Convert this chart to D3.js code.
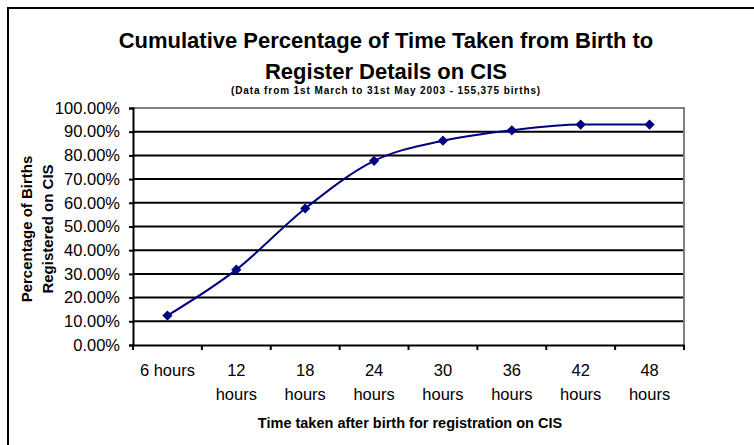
<!DOCTYPE html>
<html>
<head>
<meta charset="utf-8">
<script src="https://d3js.org/d3.v7.min.js"></script>
<style>
  body { margin: 0; background: #fff; }
  svg { display: block; font-family: "Liberation Sans", Arial, sans-serif; }
</style>
</head>
<body>
<div id="chart_div"></div>
<script>
// chart data
const categories = ["6 hours", "12 hours", "18 hours", "24 hours", "30 hours", "36 hours", "42 hours", "48 hours"];
const percentRegistered = [0.124, 0.318, 0.576, 0.777, 0.862, 0.906, 0.930, 0.930];
const yTickValues = [0, 0.1, 0.2, 0.3, 0.4, 0.5, 0.6, 0.7, 0.8, 0.9, 1.0];
const titleLines = ["Cumulative Percentage of Time Taken from Birth to", "Register Details on CIS"];
const subtitle = "(Data from 1st March to 31st May 2003 - 155,375 births)";
const yTitleLines = ["Percentage of Births", "Registered on CIS"];
const xTitle = "Time taken after birth for registration on CIS";

const width = 754, height = 445;
const plot = { left: 133, right: 684, top: 108, bottom: 345 };
const centerX = 386;

const svg = d3.select("#chart_div").append("svg")
  .attr("width", width)
  .attr("height", height);

// outer chart border (runs off the right and bottom edge)
svg.append("rect")
  .attr("x", 8).attr("y", 8)
  .attr("width", 800).attr("height", 500)
  .attr("fill", "#fff")
  .attr("stroke", "#000")
  .attr("stroke-width", 2);

// titles
svg.append("text")
  .attr("x", centerX).attr("y", 48)
  .attr("text-anchor", "middle")
  .attr("font-size", 22).attr("font-weight", "bold")
  .text(titleLines[0]);
svg.append("text")
  .attr("x", centerX).attr("y", 79)
  .attr("text-anchor", "middle")
  .attr("font-size", 22).attr("font-weight", "bold")
  .text(titleLines[1]);
svg.append("text")
  .attr("x", centerX).attr("y", 94)
  .attr("text-anchor", "middle")
  .attr("font-size", 10).attr("font-weight", "bold")
  .attr("letter-spacing", 0.9)
  .text(subtitle);

// scales
const x = d3.scaleBand()
  .domain(categories)
  .range([plot.left, plot.right]);

const y = d3.scaleLinear()
  .domain([0, 1])
  .range([plot.bottom, plot.top]);

// gridlines
svg.append("g")
  .selectAll("line")
  .data(yTickValues.filter(v => v > 0 && v < 1))
  .enter().append("line")
  .attr("x1", plot.left).attr("x2", plot.right)
  .attr("y1", d => y(d)).attr("y2", d => y(d))
  .attr("stroke", "#000")
  .attr("stroke-width", 2);

// plot border top / right (grey)
svg.append("path")
  .attr("d", `M${plot.left},${y(1)}H${plot.right}V${plot.bottom}`)
  .attr("fill", "none")
  .attr("stroke", "#808080")
  .attr("stroke-width", 2);

// Y axis
const yAxis = svg.append("g")
  .attr("transform", "translate(" + plot.left + ",0)")
  .call(d3.axisLeft(y)
    .tickValues(yTickValues)
    .tickFormat(d3.format(".2%"))
    .tickSize(4)
    .tickPadding(9));
yAxis.select(".domain").attr("stroke", "#000").attr("stroke-width", 2);
yAxis.selectAll(".tick line").attr("stroke", "#000").attr("stroke-width", 2);
yAxis.selectAll("text")
  .attr("font-family", "Liberation Sans, Arial, sans-serif")
  .attr("font-size", 16.5)
  .attr("fill", "#000");

// X axis
const xAxis = svg.append("g")
  .attr("transform", "translate(0," + plot.bottom + ")")
  .call(d3.axisBottom(x).tickSize(0).tickPadding(0));
xAxis.select(".domain").attr("stroke", "#000").attr("stroke-width", 2);
xAxis.selectAll(".tick text")
  .attr("font-family", "Liberation Sans, Arial, sans-serif")
  .attr("font-size", 16.5)
  .attr("fill", "#000")
  .each(function (d) {
    const t = d3.select(this);
    t.text(null).attr("y", 0).attr("dy", null);
    const full = t.append("tspan").attr("x", 0).attr("y", 31).text(d);
    if (full.node().getComputedTextLength() > x.bandwidth() - 8) {
      const parts = d.split(" ");
      full.text(parts[0]);
      t.append("tspan").attr("x", 0).attr("y", 55).text(parts.slice(1).join(" "));
    }
  });

// category boundary ticks
svg.append("g")
  .selectAll("line")
  .data(categories.map(c => x(c)).concat([x.range()[1]]))
  .enter().append("line")
  .attr("x1", d => d).attr("x2", d => d)
  .attr("y1", plot.bottom).attr("y2", plot.bottom + 5)
  .attr("stroke", "#000")
  .attr("stroke-width", 2);

// axis titles
svg.append("text")
  .attr("x", 410).attr("y", 428)
  .attr("text-anchor", "middle")
  .attr("font-size", 14.5).attr("font-weight", "bold")
  .text(xTitle);

const yTitle = svg.append("text")
  .attr("transform", "translate(0,229) rotate(-90)")
  .attr("text-anchor", "middle")
  .attr("font-size", 15).attr("font-weight", "bold");
yTitleLines.forEach((line, i) => {
  yTitle.append("tspan").attr("x", 0).attr("y", 32 + i * 21).text(line);
});

// smoothed line
const cx = d => x(d) + x.bandwidth() / 2;
const line = d3.line()
  .x((d, i) => cx(categories[i]))
  .y(d => y(d))
  .curve(d3.curveMonotoneX);

svg.append("path")
  .datum(percentRegistered)
  .attr("d", line)
  .attr("fill", "none")
  .attr("stroke", "#000080")
  .attr("stroke-width", 2);

// diamond markers
svg.append("g")
  .selectAll("path")
  .data(percentRegistered)
  .enter().append("path")
  .attr("d", d3.symbol(d3.symbolSquare, 52))
  .attr("transform", (d, i) => "translate(" + cx(categories[i]) + "," + y(d) + ") rotate(45)")
  .attr("fill", "#000080");
</script>
</body>
</html>
